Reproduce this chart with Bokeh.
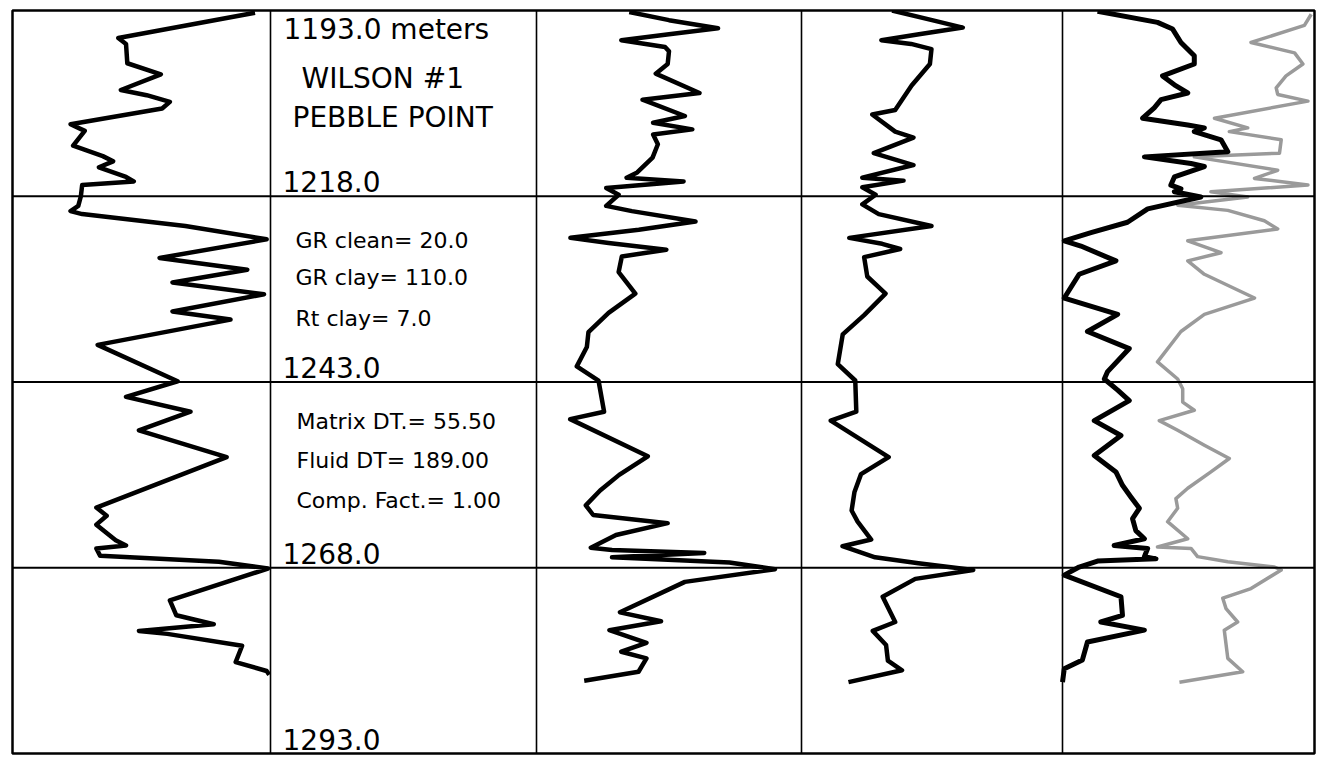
from bokeh.plotting import figure
from bokeh.models import Range1d, Span
from bokeh.core.properties import value
from bokeh.embed import file_html
from bokeh.resources import INLINE

# ---------------- data ----------------
top_depth = 1193.0
bottom_depth = 1293.0
row_depths = [1218.0, 1243.0, 1268.0, 1293.0]
depth_labels = ["1218.0", "1243.0", "1268.0", "1293.0"]
title_lines = ["1193.0 meters", "WILSON #1", "PEBBLE POINT"]
gr_param_lines = ["GR clean= 20.0", "GR clay= 110.0", "Rt clay= 7.0"]
sonic_param_lines = ["Matrix DT.= 55.50", "Fluid DT= 189.00", "Comp. Fact.= 1.00"]

# track 1 (GR), values in % of track scale
gr_depth = [1193.3, 1196.7, 1197.5, 1200.1, 1201.6, 1203.7, 1204.4, 1205.3, 1206.2, 1208.3,
            1209.2, 1211.2, 1212.6, 1213.3, 1214.1, 1215.4, 1216.0, 1216.5, 1218.0, 1219.3,
            1220.0, 1220.4, 1222.0, 1223.8, 1226.3, 1227.9, 1229.6, 1231.2, 1233.5, 1234.6,
            1238.0, 1242.9, 1245.0, 1247.0, 1249.5, 1253.1, 1259.9, 1261.0, 1262.2, 1264.3,
            1265.0, 1265.4, 1266.4, 1267.2, 1268.1, 1272.4, 1274.4, 1275.6, 1276.5, 1276.9,
            1278.5, 1280.7, 1281.9, 1282.4]
gr_value = [94, 41, 44, 44.5, 57.5, 42, 52, 61, 58, 22.5,
            28, 23.5, 35, 39, 33.5, 44, 47, 27, 26.5, 25.5,
            22.5, 27, 67, 98.5, 57, 91, 62, 97.5, 62, 84.5,
            33, 64, 44, 69, 49, 83, 32.5, 36.5, 32.5, 40,
            44, 32.5, 34, 80, 99, 61, 63.5, 78, 49, 60,
            89, 86.5, 98.5, 99.5]

# track 3
t3_depth = [1193.2, 1194.3, 1195.4, 1196.2, 1197.0, 1197.9, 1198.5, 1200.2, 1201.5, 1204.1,
            1205.0, 1207.2, 1208.1, 1209.0, 1209.7, 1211.0, 1212.8, 1214.8, 1215.5, 1216.0,
            1216.9, 1217.8, 1219.3, 1220.0, 1221.4, 1222.5, 1223.6, 1224.3, 1225.2, 1226.1,
            1228.2, 1231.1, 1233.7, 1236.3, 1238.3, 1240.9, 1242.8, 1247.0, 1248.0, 1253.0,
            1255.5, 1257.6, 1259.6, 1260.9, 1262.0, 1263.6, 1265.3, 1265.6, 1266.0, 1266.6,
            1267.3, 1268.2, 1269.9, 1274.0, 1275.2, 1276.4, 1278.1, 1279.3, 1280.2, 1282.0,
            1283.2]
t3_value = [35, 50, 68.5, 50, 32, 48.5, 50, 49.5, 45, 61.5,
            40, 56, 44, 58.8, 44, 45.8, 43.8, 38, 34, 55.5,
            26.3, 31, 26.3, 36, 60, 38.6, 12.8, 27.2, 49, 32.2,
            31, 37.3, 27.2, 19.6, 19, 15.2, 23.4, 25.5, 12.7, 42,
            31.2, 24, 18.6, 21.4, 49.5, 30, 20.5, 28.5, 63.3, 28.5,
            72.8, 90, 56, 31.5, 47, 27.5, 41.5, 32, 41.5, 38.5,
            18]

# track 4
t4_depth = [1193.0, 1194.3, 1195.3, 1196.2, 1197.0, 1197.5, 1198.2, 1200.2, 1203.1, 1206.4,
            1207.0, 1209.3, 1210.1, 1212.2, 1213.8, 1215.5, 1215.9, 1216.8, 1217.8, 1219.1,
            1220.4, 1222.0, 1223.6, 1224.4, 1225.1, 1226.2, 1228.8, 1231.1, 1234.0, 1236.6,
            1240.6, 1242.8, 1247.0, 1248.2, 1253.1, 1255.4, 1257.8, 1260.3, 1261.8, 1264.2,
            1265.1, 1266.6, 1267.4, 1268.3, 1269.5, 1271.9, 1275.3, 1276.5, 1278.4, 1280.5,
            1281.8, 1283.4]
t4_value = [34.7, 50, 61.8, 45, 30.6, 42, 49.8, 49.2, 42.2, 35.9,
            27.1, 35.9, 42.9, 27.7, 42.9, 23.3, 39.1, 23.3, 28.4, 23.3,
            29.6, 49.8, 18.3, 30.9, 37.8, 24, 25.2, 32.2, 24, 15.8,
            13.9, 20.6, 21, 11.2, 33.4, 22.8, 20.3, 19.2, 21.5, 26.7,
            15.7, 28.2, 44.8, 65.8, 43.6, 31.1, 35.9, 27.3, 32.4, 33.1,
            38.5, 18]

# track 5, black curve
t5a_depth = [1193.1, 1194.6, 1195.5, 1197.3, 1199.1, 1200.2, 1201.8, 1203.0, 1204.1, 1205.0,
             1206.1, 1207.5, 1208.4, 1208.8, 1209.3, 1210.4, 1212.0, 1212.7, 1213.6, 1214.0,
             1215.4, 1216.5, 1217.0, 1217.4, 1218.1, 1219.7, 1221.5, 1222.9, 1224.0, 1224.7,
             1226.7, 1228.5, 1231.7, 1233.9, 1236.2, 1238.5, 1241.6, 1242.6, 1244.1, 1245.5,
             1248.2, 1250.2, 1252.9, 1255.1, 1256.9, 1258.5, 1260.0, 1261.4, 1263.0, 1264.1,
             1265.0, 1265.4, 1266.5, 1266.8, 1267.1, 1267.9, 1269.0, 1271.9, 1274.4, 1275.3,
             1276.4, 1278.0, 1280.4, 1281.6, 1283.4]
t5a_value = [13.9, 37.7, 43.7, 47, 52.3, 52.3, 39.7, 44.4, 49.7, 39.1,
             36.4, 31.8, 49.7, 56.3, 52.3, 62.9, 65.6, 32.5, 51, 56.3,
             44.4, 43, 47, 44.4, 54.9, 33.8, 25.8, 11.3, 0.7, 7.3,
             21.2, 6.6, 0.7, 21.9, 9.9, 26.5, 17.9, 16.6, 21.9, 26.5,
             12.6, 23.2, 12.6, 21.2, 23.8, 27.2, 30.5, 27.8, 29.1, 32.5,
             20.5, 33.8, 32.5, 37.1, 13.9, 6.6, 0.7, 23.2, 23.8, 15.2,
             32.5, 9.9, 7.9, 0.7, 0]

# track 5, grey curve
t5b_depth = [1193.5, 1195.0, 1197.3, 1198.7, 1200.2, 1201.8, 1203.4, 1204.3, 1205.2, 1207.5,
             1208.8, 1209.3, 1210.4, 1212.2, 1212.7, 1214.5, 1215.6, 1216.5, 1217.4, 1218.1,
             1219.2, 1219.9, 1221.3, 1222.4, 1224.0, 1225.6, 1226.7, 1228.5, 1231.7, 1233.9,
             1236.2, 1240.3, 1242.6, 1243.9, 1245.7, 1246.8, 1248.2, 1249.5, 1251.5, 1253.3,
             1255.1, 1257.3, 1258.7, 1260.0, 1261.8, 1264.1, 1265.2, 1265.4, 1266.5, 1267.2,
             1267.9, 1268.3, 1270.8, 1272.1, 1273.5, 1275.3, 1276.4, 1280.2, 1282.0, 1283.4]
t5b_value = [98.7, 96, 74.8, 92.1, 95.4, 88.7, 84.8, 85.4, 97.4, 60.3,
             73.5, 66.2, 86.8, 86.1, 52.3, 85.4, 76.2, 97.4, 58.9, 73.5,
             45.7, 65.6, 80.1, 85.4, 49.7, 62.9, 49.7, 56.3, 76.2, 56.3,
             47, 37.7, 45.7, 47.7, 47.7, 52.3, 38.4, 45.7, 56.3, 66.2,
             58.9, 49.7, 45, 45.7, 41.7, 49.7, 37.7, 51, 53.6, 65.6,
             84.1, 86.8, 74.8, 63.6, 64.9, 69.5, 64.2, 65.6, 71.5, 46.4]

# ---------------- layout ----------------
track_edges = [0, 258, 524, 789, 1050, 1302]   # in frame pixels
FRAME_W, FRAME_H = 1302, 743

p = figure(width=FRAME_W + 16, height=FRAME_H + 14,
           x_range=Range1d(0, FRAME_W), y_range=Range1d(bottom_depth, top_depth),
           x_axis_type=None, y_axis_type=None,
           output_backend="svg", toolbar_location=None,
           min_border_left=12, min_border_right=4, min_border_top=10, min_border_bottom=4)
p.outline_line_color = "black"
p.outline_line_width = 2.5
p.background_fill_color = "white"
p.border_fill_color = "white"


def track_x(track, vals):
    left = track_edges[track]
    w = track_edges[track + 1] - left
    return [left + v / 100.0 * w for v in vals]


for e in track_edges[1:-1]:
    p.add_layout(Span(location=e, dimension="height", line_color="black", line_width=1.6))
for d in row_depths[:-1]:
    p.add_layout(Span(location=d, dimension="width", line_color="black", line_width=2))

p.line(track_x(4, t5b_value), t5b_depth, line_color="#9a9a9a", line_width=3.5, line_join="round")
p.line(track_x(0, gr_value), gr_depth, line_color="black", line_width=4.5, line_join="round")
p.line(track_x(2, t3_value), t3_depth, line_color="black", line_width=4.5, line_join="round")
p.line(track_x(3, t4_value), t4_depth, line_color="black", line_width=4.5, line_join="round")
p.line(track_x(4, t5a_value), t5a_depth, line_color="black", line_width=5, line_join="round")

font = value("DejaVu Sans")
tx = track_edges[1]

# title block in first row (text centres)
p.text(x=[tx + 13, tx + 31, tx + 22],
       y=[top_depth + 2.6, top_depth + 9.1, top_depth + 14.4],
       text=title_lines, text_font=font, text_font_size="28px",
       text_color="black", text_baseline="middle", text_align="left")

# depth labels at the bottom of each row
p.text(x=[tx + 12] * len(row_depths), y=row_depths, text=depth_labels,
       text_font=font, text_font_size="28px", text_color="black",
       text_baseline="middle", text_align="left", y_offset=-14.5)

# parameters
p.text(x=[tx + 25] * 3,
       y=[row_depths[0] + 6.0, row_depths[0] + 11.0, row_depths[0] + 16.4],
       text=gr_param_lines, text_font=font, text_font_size="22px",
       text_color="black", text_baseline="middle", text_align="left")
p.text(x=[tx + 26] * 3,
       y=[row_depths[1] + 5.25, row_depths[1] + 10.6, row_depths[1] + 15.9],
       text=sonic_param_lines, text_font=font, text_font_size="22px",
       text_color="black", text_baseline="middle", text_align="left")

open("out.html", "w").write(file_html(p, INLINE))
